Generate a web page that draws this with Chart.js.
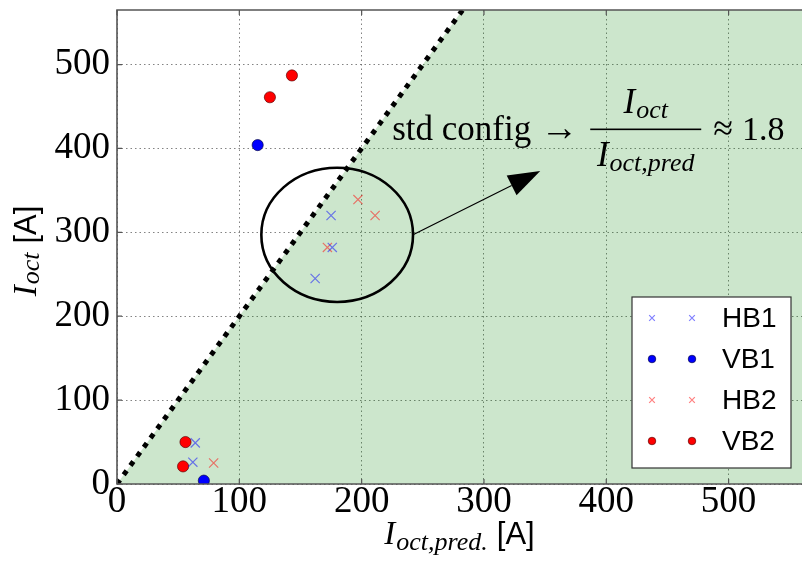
<!DOCTYPE html>
<html>
<head>
<meta charset="utf-8">
<script src="https://cdn.jsdelivr.net/npm/chart.js@4/dist/chart.umd.min.js"></script>
<style>
  html, body { margin: 0; padding: 0; background: #fff; }
  #wrap { width: 802px; height: 563px; position: relative; }
</style>
</head>
<body>
<div id="wrap"><canvas id="c" width="802" height="563"></canvas></div>
<script>
// Measured octupole current vs. predicted octupole current, in amperes
const hb1 = [{x: 175, y: 320}, {x: 176, y: 282}, {x: 162, y: 245}, {x: 64, y: 49}, {x: 62, y: 26}];
const vb1 = [{x: 115, y: 404}, {x: 71, y: 4}];
const hb2 = [{x: 197, y: 339}, {x: 211, y: 320}, {x: 172, y: 282}, {x: 79, y: 25}];
const vb2 = [{x: 143, y: 487}, {x: 125, y: 461}, {x: 56, y: 50}, {x: 54, y: 21}];

const xTicks = [0, 100, 200, 300, 400, 500];
const yTicks = [0, 100, 200, 300, 400, 500];
const xMax = 560;
const yMax = 565;

// Boundary I_oct = 2 * I_oct,pred ; the region below it is shaded
const boundary = [{x: 0, y: 0}, {x: 560, y: 1120}];

// Highlighted "std config" cluster and the arrow pointing to its ratio
const cluster = {cx: 180, cy: 297, rx: 62, ry: 80};
const pointer = {from: {x: 242, y: 297}, to: {x: 346, y: 373}};
const noteAnchor = {x: 225, y: 410};

const SERIF = '"Liberation Serif", "Times New Roman", serif';
const SANS = '"Liberation Sans", Arial, sans-serif';
const FRAME = '#555';

function drawRuns(ctx, runs, x, y, align) {
  let total = 0;
  runs.forEach(r => { ctx.font = r.font; r.w = ctx.measureText(r.t).width; total += r.w + (r.gap || 0); });
  let cx = align === 'center' ? x - total / 2 : (align === 'right' ? x - total : x);
  ctx.textBaseline = 'alphabetic';
  ctx.textAlign = 'left';
  runs.forEach(r => {
    ctx.font = r.font;
    ctx.fillText(r.t, cx, y + (r.dy || 0));
    cx += r.w + (r.gap || 0);
  });
  return total;
}

function noEdgePadding(s) {
  s.paddingTop = 0; s.paddingBottom = 0; s.paddingLeft = 0; s.paddingRight = 0;
}

const decor = {
  id: 'decor',
  afterDatasetsDraw(chart) {
    const {ctx, chartArea: a, scales: {x: xs, y: ys}} = chart;
    ctx.save();

    // highlight ellipse
    const ex = xs.getPixelForValue(cluster.cx), ey = ys.getPixelForValue(cluster.cy);
    const erx = xs.getPixelForValue(cluster.cx + cluster.rx) - ex;
    const ery = ey - ys.getPixelForValue(cluster.cy + cluster.ry);
    ctx.strokeStyle = '#000';
    ctx.lineWidth = 2.6;
    ctx.beginPath();
    ctx.ellipse(ex, ey, erx, ery, 0, 0, Math.PI * 2);
    ctx.stroke();

    // arrow
    const x0 = xs.getPixelForValue(pointer.from.x), y0 = ys.getPixelForValue(pointer.from.y);
    const x1 = xs.getPixelForValue(pointer.to.x), y1 = ys.getPixelForValue(pointer.to.y);
    const ang = Math.atan2(y1 - y0, x1 - x0);
    const headL = 32, headW = 11;
    const bx = x1 - headL * Math.cos(ang), by = y1 - headL * Math.sin(ang);
    ctx.lineWidth = 1.2;
    ctx.beginPath();
    ctx.moveTo(x0, y0);
    ctx.lineTo(bx, by);
    ctx.stroke();
    ctx.fillStyle = '#000';
    ctx.beginPath();
    ctx.moveTo(x1, y1);
    ctx.lineTo(bx + headW * Math.sin(ang), by - headW * Math.cos(ang));
    ctx.lineTo(bx - headW * Math.sin(ang), by + headW * Math.cos(ang));
    ctx.closePath();
    ctx.fill();

    // annotation: std config -> I_oct / I_oct,pred ≈ 1.8
    const tx = xs.getPixelForValue(noteAnchor.x), ty = ys.getPixelForValue(noteAnchor.y);
    ctx.fillStyle = '#000';
    const w1 = drawRuns(ctx, [{t: 'std config', font: '35px ' + SERIF, gap: 9},
                               {t: '\u2192', font: '38px ' + SERIF}], tx, ty, 'left');
    const fracL = tx + w1 + 12, fracR = fracL + 111, fracC = (fracL + fracR) / 2;
    drawRuns(ctx, [{t: 'I', font: 'italic 35px ' + SERIF, gap: 1},
                   {t: 'oct', font: 'italic 26px ' + SERIF, dy: 5}], fracC, ty - 27, 'center');
    ctx.fillRect(fracL, ty - 11.5, fracR - fracL, 1.6);
    drawRuns(ctx, [{t: 'I', font: 'italic 35px ' + SERIF, gap: 1},
                   {t: 'oct,pred', font: 'italic 26px ' + SERIF, dy: 5}], fracC, ty + 26, 'center');
    drawRuns(ctx, [{t: '\u2248', font: '36px ' + SERIF, gap: 9},
                   {t: '1.8', font: '34px ' + SERIF}], fracR + 12, ty, 'left');

    // frame and inward ticks
    ctx.strokeStyle = FRAME;
    ctx.lineWidth = 1.6;
    ctx.beginPath();
    ctx.moveTo(a.right + 2, a.top); ctx.lineTo(a.left, a.top);
    ctx.lineTo(a.left, a.bottom); ctx.lineTo(a.right + 2, a.bottom);
    ctx.stroke();
    ctx.lineWidth = 1.2;
    ctx.beginPath();
    xTicks.forEach(v => {
      const p = xs.getPixelForValue(v);
      ctx.moveTo(p, a.top); ctx.lineTo(p, a.top + 5);
      ctx.moveTo(p, a.bottom); ctx.lineTo(p, a.bottom - 5);
    });
    yTicks.forEach(v => {
      const p = ys.getPixelForValue(v);
      ctx.moveTo(a.left, p); ctx.lineTo(a.left + 5, p);
    });
    ctx.stroke();

    // legend with two markers per entry, in each dataset's colours
    const boxR = a.right - 11, boxB = a.bottom - 16, boxW = 159, boxH = 171;
    const boxL = boxR - boxW, boxT = boxB - boxH;
    ctx.fillStyle = '#fff';
    ctx.fillRect(boxL, boxT, boxW, boxH);
    ctx.strokeStyle = '#333';
    ctx.lineWidth = 1.2;
    ctx.strokeRect(boxL, boxT, boxW, boxH);
    const entries = chart.data.datasets.filter(d => d.label);
    entries.forEach((d, i) => {
      const ry = boxT + 21 + i * 41;
      [boxL + 20, boxL + 60].forEach(mx => {
        ctx.save();
        ctx.fillStyle = d.backgroundColor;
        ctx.strokeStyle = d.borderColor;
        ctx.lineWidth = d.borderWidth;
        Chart.helpers.drawPoint(ctx, {
          pointStyle: d.pointStyle,
          radius: d.pointStyle === 'circle' ? 3.8 : 4,
          borderWidth: d.borderWidth,
          rotation: 0
        }, mx, ry);
        ctx.restore();
      });
      ctx.fillStyle = '#000';
      ctx.font = '28px ' + SANS;
      ctx.textBaseline = 'middle';
      ctx.textAlign = 'left';
      ctx.fillText(d.label, boxL + 90, ry + 1);
    });

    // axis titles
    ctx.fillStyle = '#000';
    const midX = (a.left + a.right) / 2;
    drawRuns(ctx, [{t: 'I', font: 'italic 33px ' + SERIF, gap: 1},
                   {t: 'oct,pred.', font: 'italic 26px ' + SERIF, dy: 6, gap: 9},
                   {t: '[A]', font: '31px ' + SANS}], midX, 544, 'center');
    ctx.save();
    ctx.translate(36, (a.top + a.bottom) / 2 + 4);
    ctx.rotate(-Math.PI / 2);
    drawRuns(ctx, [{t: 'I', font: 'italic 33px ' + SERIF, gap: 1},
                   {t: 'oct', font: 'italic 26px ' + SERIF, dy: 3, gap: 9},
                   {t: '[A]', font: '31px ' + SANS}], 0, 0, 'center');
    ctx.restore();

    ctx.restore();
  }
};

const chart = new Chart(document.getElementById('c'), {
  type: 'scatter',
  data: {
    datasets: [
      {label: 'HB1', data: hb1, pointStyle: 'crossRot', pointRadius: 6.5, pointHoverRadius: 6.5,
       borderColor: 'rgba(0,0,255,0.5)', backgroundColor: 'rgba(0,0,255,0.5)', borderWidth: 1.2},
      {label: 'VB1', data: vb1, pointStyle: 'circle', pointRadius: 5.6, pointHoverRadius: 5.6,
       borderColor: 'rgba(0,0,60,0.8)', backgroundColor: '#0000ff', borderWidth: 0.8},
      {label: 'HB2', data: hb2, pointStyle: 'crossRot', pointRadius: 6.5, pointHoverRadius: 6.5,
       borderColor: 'rgba(255,0,0,0.5)', backgroundColor: 'rgba(255,0,0,0.5)', borderWidth: 1.2},
      {label: 'VB2', data: vb2, pointStyle: 'circle', pointRadius: 5.6, pointHoverRadius: 5.6,
       borderColor: 'rgba(80,0,0,0.8)', backgroundColor: '#ff0000', borderWidth: 0.8},
      {type: 'line', data: boundary, showLine: true, pointRadius: 0, borderColor: '#000',
       borderWidth: 5, borderDash: [5, 6.4], borderCapStyle: 'butt',
       fill: 'origin', backgroundColor: 'rgba(0,128,0,0.2)', tension: 0}
    ]
  },
  options: {
    responsive: false,
    animation: false,
    devicePixelRatio: 1,
    layout: {autoPadding: false, padding: {top: 10, right: 0, left: 0, bottom: 0}},
    plugins: {legend: {display: false}, tooltip: {enabled: false}},
    scales: {
      x: {
        type: 'linear', min: 0, max: xMax,
        afterBuildTicks: s => { s.ticks = xTicks.map(v => ({value: v})); },
        afterFit: s => { s.height = 79; noEdgePadding(s); },
        ticks: {font: {family: SERIF, size: 37, lineHeight: 1}, color: '#000', padding: 0, maxRotation: 0,
                autoSkip: false},
        grid: {color: 'rgba(90,90,90,0.75)', lineWidth: 1, drawTicks: false},
        border: {display: false, dash: [1.5, 3]}
      },
      y: {
        type: 'linear', min: 0, max: yMax,
        afterBuildTicks: s => { s.ticks = yTicks.map(v => ({value: v})); },
        afterFit: s => { s.width = 117; noEdgePadding(s); },
        ticks: {font: {family: SERIF, size: 37, lineHeight: 1}, color: '#000', padding: 7, autoSkip: false},
        grid: {color: 'rgba(90,90,90,0.75)', lineWidth: 1, drawTicks: false},
        border: {display: false, dash: [1.5, 3]}
      }
    }
  },
  plugins: [decor]
});
</script>
</body>
</html>
